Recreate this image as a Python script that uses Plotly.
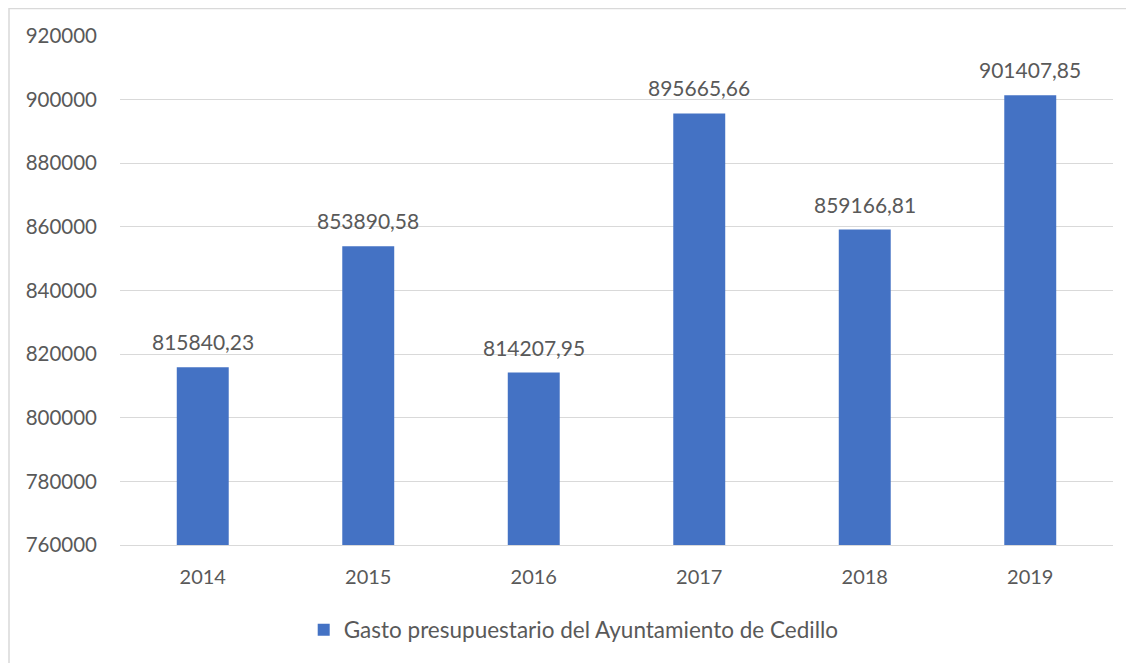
import plotly.graph_objects as go

# datos
anios = ['2014', '2015', '2016', '2017', '2018', '2019']
gasto = [815840.23, 853890.58, 814207.95, 895665.66, 859166.81, 901407.85]
serie = 'Gasto presupuestario del Ayuntamiento de Cedillo'
ticks_y = [760000, 780000, 800000, 820000, 840000, 860000, 880000, 900000, 920000]

azul = '#4472C4'
gris_texto = '#595959'
fuente = 'Lato, Open Sans, sans-serif'

# etiquetas con coma decimal
etiquetas = [f'{v:.2f}'.replace('.', ',') for v in gasto]

fig = go.Figure()
fig.add_trace(go.Bar(x=anios, y=gasto, name=serie,
                     marker=dict(color=azul, line=dict(width=0))))

# etiquetas de datos encima de cada barra (x = indice de categoria)
for i, (v, e) in enumerate(zip(gasto, etiquetas)):
    fig.add_annotation(x=i, y=v, xref='x', yref='y', text=e, showarrow=False,
                       yanchor='bottom', yshift=11,
                       font=dict(size=21, color=gris_texto, family=fuente))

fig.update_layout(
    width=1134, height=663,
    margin=dict(l=112, r=29, t=28, b=126),
    paper_bgcolor='white', plot_bgcolor='white',
    font=dict(family=fuente, size=20, color=gris_texto),
    bargap=0.686,
    showlegend=True,
    legend=dict(orientation='h', x=0.185, xanchor='left', y=-0.167, yanchor='middle',
                font=dict(size=22.5, color=gris_texto)),
)
fig.update_yaxes(range=[760000, 920000], tickvals=ticks_y, ticktext=[str(t) for t in ticks_y],
                 showgrid=True, gridcolor='#d9d9d9', gridwidth=1,
                 zeroline=False, showline=False, ticks='', ticklabelstandoff=22,
                 tickfont=dict(size=20.5))
fig.update_xaxes(type='category', range=[-0.5, len(anios) - 0.5],
                 showgrid=False, showline=True, linecolor='#d9d9d9', linewidth=1,
                 ticks='', ticklabelstandoff=14)

# borde del grafico
fig.add_shape(type='rect', xref='paper', yref='paper',
              x0=-112 / 993 + 0.001, x1=1.1, y0=-0.4, y1=1 + 27.5 / 509,
              line=dict(color='#d9d9d9', width=1.5), fillcolor='rgba(0,0,0,0)', layer='below')

fig.write_html('out.html')
